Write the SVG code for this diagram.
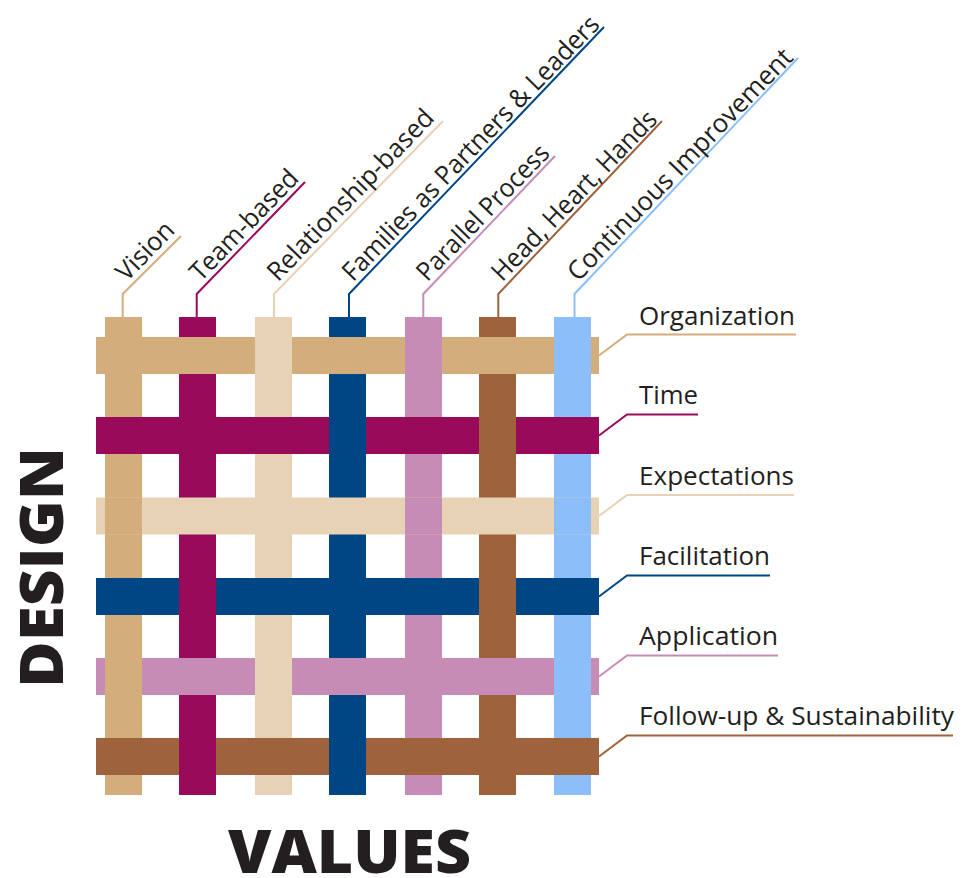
<svg xmlns="http://www.w3.org/2000/svg" width="972" height="878" viewBox="0 0 972 878">
  <style>
    .c-tan{fill:#D3AD7B}
    .c-mar{fill:#990A5A}
    .c-cre{fill:#E8D2B6}
    .c-blu{fill:#004684}
    .c-pnk{fill:#C68CB6}
    .c-brn{fill:#9E623C}
    .c-sky{fill:#8CBEFA}
    .l{fill:none;stroke-width:2;stroke-linejoin:miter}
    .s-tan{stroke:#D3AD7B}
    .s-mar{stroke:#990A5A}
    .s-cre{stroke:#E8D2B6}
    .s-blu{stroke:#004684}
    .s-pnk{stroke:#C68CB6}
    .s-brn{stroke:#9E623C}
    .s-sky{stroke:#8CBEFA}
    .lbl{font-family:"Open Sans","Noto Sans","Liberation Sans",sans-serif;fill:#231F20}
    .top{font-size:26px}
    .side{font-size:26px}
    .big{font-family:"Open Sans","Noto Sans","Liberation Sans",sans-serif;font-weight:800;font-size:60px;fill:#231F20}
  </style>

  <!-- vertical strands (VALUES) -->
  <g id="values-strands">
    <rect id="bar-vision" class="c-tan" x="105" y="317" width="37" height="478"/>
    <rect id="bar-team" class="c-mar" x="179" y="317" width="37" height="478"/>
    <rect id="bar-relationship" class="c-cre" x="255" y="317" width="37" height="478"/>
    <rect id="bar-families" class="c-blu" x="329" y="317" width="37" height="478"/>
    <rect id="bar-parallel" class="c-pnk" x="405" y="317" width="37" height="478"/>
    <rect id="bar-head" class="c-brn" x="479" y="317" width="37" height="478"/>
    <rect id="bar-continuous" class="c-sky" x="554" y="317" width="37" height="478"/>
  </g>

  <!-- horizontal strands (DESIGN) -->
  <g id="design-strands">
    <rect id="bar-organization" class="c-tan" x="96" y="337" width="503" height="37"/>
    <rect id="bar-time" class="c-mar" x="96" y="417" width="503" height="37"/>
    <rect id="bar-expectations" class="c-cre" x="96" y="497.5" width="503" height="37"/>
    <rect id="bar-facilitation" class="c-blu" x="96" y="578" width="503" height="37"/>
    <rect id="bar-application" class="c-pnk" x="96" y="658" width="503" height="37"/>
    <rect id="bar-followup" class="c-brn" x="96" y="738" width="503" height="37"/>
  </g>

  <!-- weave: vertical strands passing over -->
  <g id="weave-overlaps">
    <rect class="c-cre" x="255" y="337" width="37" height="37"/>
    <rect class="c-pnk" x="405" y="337" width="37" height="37"/>
    <rect class="c-sky" x="554" y="337" width="37" height="37"/>
    <rect class="c-blu" x="329" y="417" width="37" height="37"/>
    <rect class="c-brn" x="479" y="417" width="37" height="37"/>
    <rect class="c-tan" x="105" y="497.5" width="37" height="37"/>
    <rect class="c-pnk" x="405" y="497.5" width="37" height="37"/>
    <rect class="c-sky" x="554" y="497.5" width="37" height="37"/>
    <rect class="c-mar" x="179" y="578" width="37" height="37"/>
    <rect class="c-brn" x="479" y="578" width="37" height="37"/>
    <rect class="c-tan" x="105" y="658" width="37" height="37"/>
    <rect class="c-cre" x="255" y="658" width="37" height="37"/>
    <rect class="c-sky" x="554" y="658" width="37" height="37"/>
    <rect class="c-mar" x="179" y="738" width="37" height="37"/>
    <rect class="c-blu" x="329" y="738" width="37" height="37"/>
  </g>

  <!-- connectors (leader lines) -->
  <g id="connectors">
    <polyline class="l s-tan" points="122.7,317 122.7,294 181,236"/>
    <polyline class="l s-mar" points="196.7,317 196.7,294 305,182"/>
    <polyline class="l s-cre" points="274,317 274,294 443,121"/>
    <polyline class="l s-blu" points="349,317 349,294 604,27"/>
    <polyline class="l s-pnk" points="423.3,317 423.3,294 555,156"/>
    <polyline class="l s-brn" points="498.3,317 498.3,294 662,121"/>
    <polyline class="l s-sky" points="574.5,317 574.5,294 798,58"/>

    <polyline class="l s-tan" points="599,355.5 627,334.5 796,334.5"/>
    <polyline class="l s-mar" points="599,435.5 627,414.5 698,414.5"/>
    <polyline class="l s-cre" points="599,516 627,495 794,495"/>
    <polyline class="l s-blu" points="599,596.5 627,575.5 770,575.5"/>
    <polyline class="l s-pnk" points="599,676.5 627,655.5 778,655.5"/>
    <polyline class="l s-brn" points="599,756.5 627,735.5 953,735.5"/>
  </g>

  <!-- top labels (values) -->
  <g id="label-vision"><text class="lbl top" transform="translate(126.7,282.6) rotate(-46)" textLength="71" lengthAdjust="spacingAndGlyphs">Vision</text></g>
  <g id="label-team"><text class="lbl top" transform="translate(200.7,282.6) rotate(-46)" textLength="143" lengthAdjust="spacingAndGlyphs">Team-based</text></g>
  <g id="label-relationship"><text class="lbl top" transform="translate(278,282.6) rotate(-46)" textLength="227" lengthAdjust="spacingAndGlyphs">Relationship-based</text></g>
  <g id="label-families"><text class="lbl top" transform="translate(353,282.6) rotate(-46)" textLength="357" lengthAdjust="spacingAndGlyphs">Families as Partners &amp; Leaders</text></g>
  <g id="label-parallel"><text class="lbl top" transform="translate(427.3,282.6) rotate(-46)" textLength="178" lengthAdjust="spacingAndGlyphs">Parallel Process</text></g>
  <g id="label-head"><text class="lbl top" transform="translate(502.3,282.6) rotate(-46)" textLength="225" lengthAdjust="spacingAndGlyphs">Head, Heart, Hands</text></g>
  <g id="label-continuous"><text class="lbl top" transform="translate(578.3,282.6) rotate(-46)" textLength="311" lengthAdjust="spacingAndGlyphs">Continuous Improvement</text></g>

  <!-- side labels (design) -->
  <g id="label-organization"><text class="lbl side" x="639" y="324.5" textLength="156" lengthAdjust="spacingAndGlyphs">Organization</text></g>
  <g id="label-time"><text class="lbl side" x="639" y="404" textLength="59" lengthAdjust="spacingAndGlyphs">Time</text></g>
  <g id="label-expectations"><text class="lbl side" x="639" y="484.5" textLength="155" lengthAdjust="spacingAndGlyphs">Expectations</text></g>
  <g id="label-facilitation"><text class="lbl side" x="639" y="565" textLength="131" lengthAdjust="spacingAndGlyphs">Facilitation</text></g>
  <g id="label-application"><text class="lbl side" x="639" y="645" textLength="139" lengthAdjust="spacingAndGlyphs">Application</text></g>
  <g id="label-followup"><text class="lbl side" x="639" y="725" textLength="315" lengthAdjust="spacingAndGlyphs">Follow-up &amp; Sustainability</text></g>

  <!-- axis titles -->
  <g id="title-design"><text class="big" transform="translate(63,688) rotate(-90)" textLength="241" lengthAdjust="spacingAndGlyphs">DESIGN</text></g>
  <g id="title-values"><text class="big" x="228" y="873" textLength="243" lengthAdjust="spacingAndGlyphs">VALUES</text></g>
</svg>
